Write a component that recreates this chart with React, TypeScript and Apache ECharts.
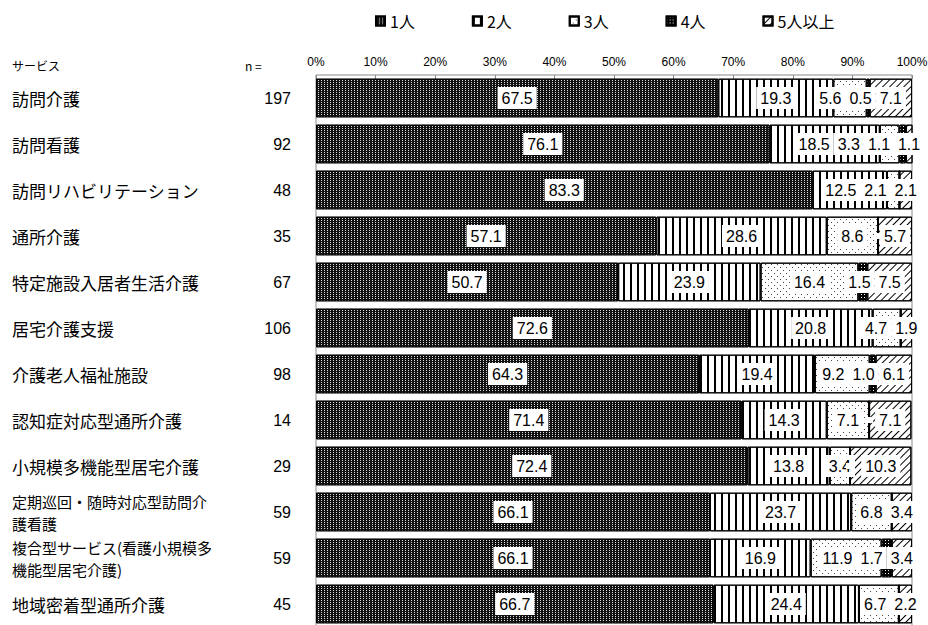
import React, { useEffect, useRef } from "react";
import * as echarts from "echarts";

const categories = [
  "訪問介護",
  "訪問看護",
  "訪問リハビリテーション",
  "通所介護",
  "特定施設入居者生活介護",
  "居宅介護支援",
  "介護老人福祉施設",
  "認知症対応型通所介護",
  "小規模多機能型居宅介護",
  "定期巡回・随時対応型訪問介\n護看護",
  "複合型サービス(看護小規模多\n機能型居宅介護)",
  "地域密着型通所介護",
];
const nValues = ["197", "92", "48", "35", "67", "106", "98", "14", "29", "59", "59", "45"];
const seriesNames = ["1人", "2人", "3人", "4人", "5人以上"];
const one = [67.5, 76.1, 83.3, 57.1, 50.7, 72.6, 64.3, 71.4, 72.4, 66.1, 66.1, 66.7];
const two = [19.3, 18.5, 12.5, 28.6, 23.9, 20.8, 19.4, 14.3, 13.8, 23.7, 16.9, 24.4];
const three = [5.6, 3.3, 2.1, 8.6, 16.4, 4.7, 9.2, 7.1, 3.4, 6.8, 11.9, 6.7];
const four = [0.5, 1.1, 0, 0, 1.5, 0, 1.0, 0, 0, 0, 1.7, 0];
const fivePlus = [7.1, 1.1, 2.1, 5.7, 7.5, 1.9, 6.1, 7.1, 10.3, 3.4, 3.4, 2.2];
const xTicks = [0, 10, 20, 30, 40, 50, 60, 70, 80, 90, 100];

const allValues = [one, two, three, four, fivePlus];

const styles: any[] = [
  {
    color: "#111",
    decal: { symbol: "rect", color: "#ddd", dashArrayX: [1, 2], dashArrayY: [1, 1], symbolSize: 1, symbolKeepAspect: false },
  },
  {
    color: "#fff",
    decal: { symbol: "rect", color: "#000", dashArrayX: [2, 5], dashArrayY: [10, 0], symbolSize: 1, symbolKeepAspect: false },
  },
  {
    color: "#fff",
    decal: { symbol: "rect", color: "#444", dashArrayX: [[1, 5], [0, 3, 1, 2]], dashArrayY: [1, 2], symbolSize: 1, symbolKeepAspect: false },
  },
  {
    color: "#000",
    decal: { symbol: "rect", color: "#fff", dashArrayX: [1, 2], dashArrayY: [1, 2], symbolSize: 1, symbolKeepAspect: false },
  },
  {
    color: "#fff",
    decal: { symbol: "rect", color: "#000", dashArrayX: [1, 0], dashArrayY: [1, 4], rotation: -Math.PI / 4, symbolSize: 1, symbolKeepAspect: false },
  },
];

const LABEL_FONT = 16;
const LABEL_PAD_H = 4;
const NUM_FONT = "'Liberation Sans', Arial, sans-serif";

let measureCtx: CanvasRenderingContext2D | null = null;
function textW(t: string): number {
  if (!measureCtx) {
    measureCtx = document.createElement("canvas").getContext("2d");
  }
  if (!measureCtx) return t.length * LABEL_FONT * 0.5;
  measureCtx.font = `${LABEL_FONT}px ${NUM_FONT}`;
  return measureCtx.measureText(t).width;
}

export default function App() {
  const ref = useRef<HTMLDivElement>(null);
  useEffect(() => {
    document.body.style.margin = "0";
    const chart = echarts.init(ref.current!, null, { renderer: "svg" });
    const jp = "'Noto Sans CJK JP', 'Noto Sans', sans-serif";
    const nS = seriesNames.length;

    // Push small-segment labels leftwards so neighbouring labels in a row do not collide.
    const labelLayout = (params: any) => {
      const si = params.seriesIndex % nS;
      const r = params.dataIndex;
      const v = allValues[si][r];
      if (!v || !params.rect) return {};
      const scale = params.rect.width / v;
      let cumOwn = 0;
      for (let k = 0; k < si; k++) cumOwn += allValues[k][r];
      const x0 = params.rect.x - cumOwn * scale;
      const centers: number[] = [];
      const widths: number[] = [];
      const idx: number[] = [];
      let cum = 0;
      for (let k = 0; k < allValues.length; k++) {
        const vk = allValues[k][r];
        if (vk) {
          centers.push(x0 + (cum + vk / 2) * scale);
          widths.push(textW(vk.toFixed(1)) + LABEL_PAD_H * 2);
          idx.push(k);
        }
        cum += vk;
      }
      const orig = centers.slice();
      for (let j = centers.length - 2; j >= 0; j--) {
        const limit = centers[j + 1] - (widths[j] + widths[j + 1]) / 2;
        if (centers[j] > limit) centers[j] = limit;
      }
      const p = idx.indexOf(si);
      return { dx: centers[p] - orig[p] };
    };

    const barSeries = seriesNames.map((name, i) => ({
      name,
      type: "bar",
      stack: "total",
      barCategoryGap: "16%",
      barGap: "-100%",
      yAxisIndex: 0,
      z: 2,
      data: allValues[i],
      itemStyle: { ...styles[i], borderColor: "#000", borderWidth: 1 },
      label: { show: false },
    }));

    const labelSeries = seriesNames.map((name, i) => ({
      name: name + "_label",
      type: "bar",
      stack: "labels",
      barCategoryGap: "16%",
      barGap: "-100%",
      yAxisIndex: 0,
      z: 5,
      silent: true,
      data: allValues[i],
      itemStyle: { color: "rgba(0,0,0,0)", borderWidth: 0 },
      labelLayout,
      label: {
        show: true,
        position: "inside",
        overflow: "none",
        formatter: (p: any) => (p.value ? p.value.toFixed(1) : ""),
        backgroundColor: "#fff",
        padding: [3, LABEL_PAD_H],
        color: "#000",
        fontSize: LABEL_FONT,
        fontFamily: NUM_FONT,
      },
    }));

    chart.setOption({
      animation: false,
      backgroundColor: "#fff",
      textStyle: { fontFamily: jp, color: "#000" },
      legend: {
        left: 370,
        top: 8,
        itemWidth: 9,
        itemHeight: 9,
        itemGap: 57,
        icon: "rect",
        textStyle: { fontSize: 16, color: "#000", fontFamily: jp },
        data: seriesNames,
      },
      grid: {
        left: 316,
        right: 16,
        top: 75,
        height: 552,
        show: true,
        borderColor: "#888",
        borderWidth: 1,
        outerBoundsMode: "none",
        containLabel: false,
      },
      xAxis: {
        type: "value",
        position: "top",
        min: 0,
        max: 100,
        interval: 10,
        axisLine: { show: false },
        axisTick: { show: true, inside: true, length: 4, lineStyle: { color: "#888" } },
        splitLine: { show: false },
        axisLabel: {
          formatter: (v: number) => (xTicks.includes(v) ? v + "%" : ""),
          fontSize: 12,
          color: "#000",
          margin: 7,
          fontFamily: "'Liberation Sans Narrow', 'Liberation Sans', sans-serif",
        },
      },
      yAxis: [
        {
          type: "category",
          data: categories,
          inverse: true,
          position: "left",
          axisLine: { show: false },
          axisTick: { show: false },
          axisLabel: {
            align: "left",
            margin: 304,
            fontSize: 17,
            color: "#000",
            fontFamily: jp,
            formatter: (v: string) =>
              v.includes("\n")
                ? v
                    .split("\n")
                    .map((l) => `{s|${l}}`)
                    .join("\n")
                : v,
            rich: {
              s: { fontSize: 15, lineHeight: 22, fontFamily: jp, color: "#000" },
            },
          },
        },
        {
          type: "category",
          data: nValues,
          inverse: true,
          position: "left",
          axisLine: { show: false },
          axisTick: { show: false },
          axisLabel: { align: "right", margin: 25, fontSize: 16, color: "#000", fontFamily: NUM_FONT },
        },
      ],
      graphic: [
        { type: "text", left: 12, top: 59, style: { text: "サービス", fontSize: 12, fill: "#000", fontFamily: jp } },
        { type: "text", left: 245, top: 59, style: { text: "n =", fontSize: 12, fill: "#000", fontFamily: jp } },
      ],
      series: [...barSeries, ...labelSeries],
    });
    return () => chart.dispose();
  }, []);
  return <div ref={ref} style={{ width: 928, height: 625 }} />;
}
